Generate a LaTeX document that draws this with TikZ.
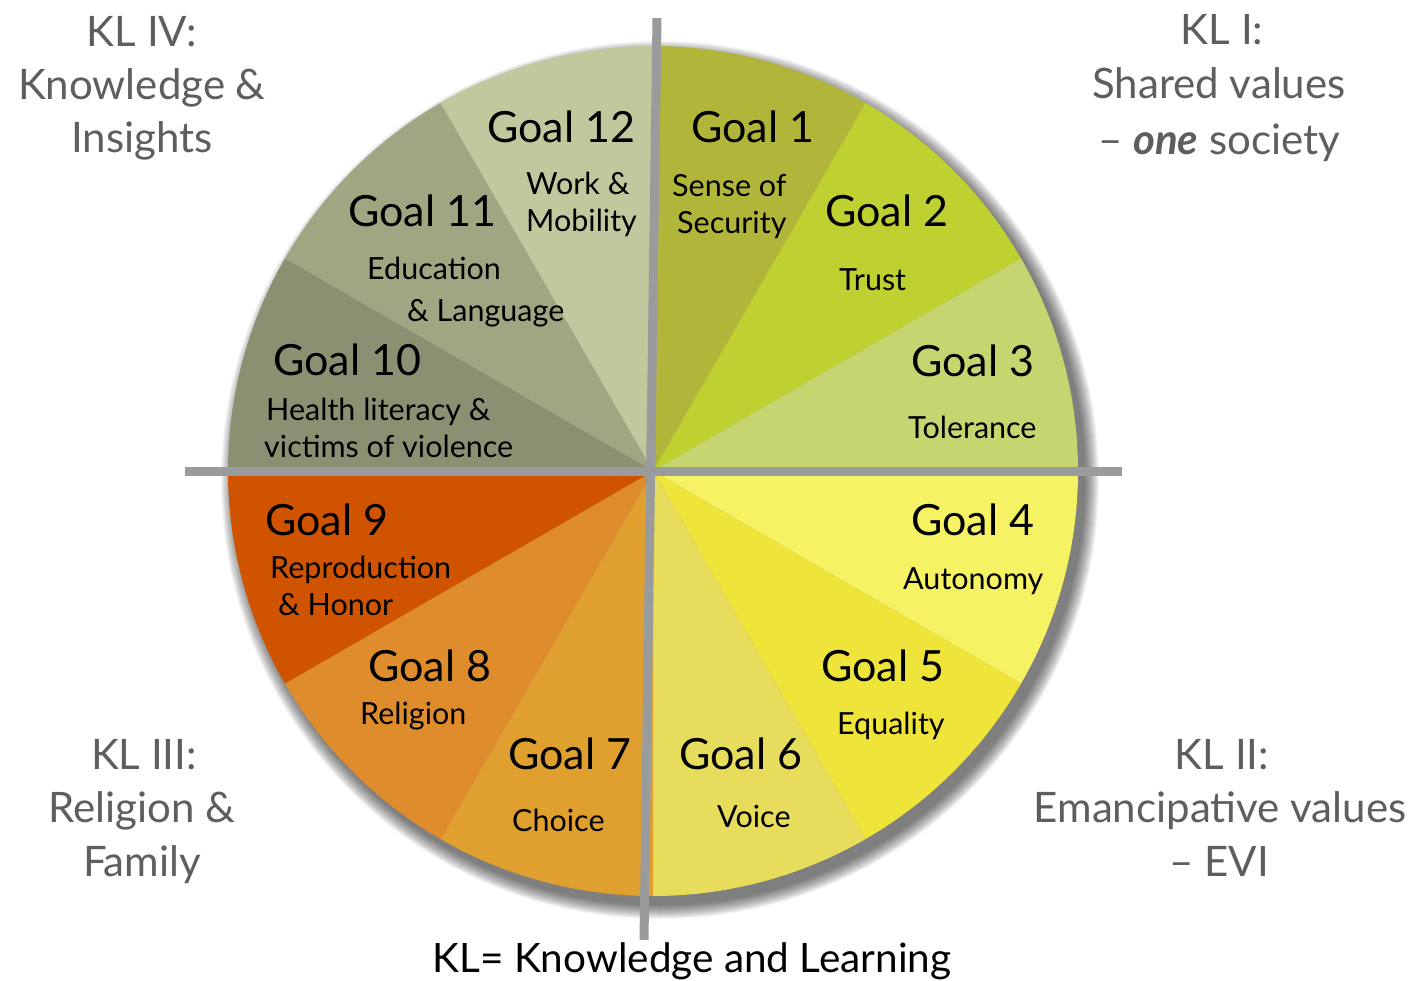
\documentclass[tikz,border=0pt]{standalone}
\usepackage{fontspec}
\setmainfont{Lato}
\definecolor{g1}{HTML}{B1B53A}
\definecolor{g2}{HTML}{BED131}
\definecolor{g3}{HTML}{C5D670}
\definecolor{g4}{HTML}{F5F263}
\definecolor{g5}{HTML}{EFE43A}
\definecolor{g6}{HTML}{E8DC5C}
\definecolor{g7}{HTML}{E0A030}
\definecolor{g8}{HTML}{DF8C2C}
\definecolor{g9}{HTML}{D05400}
\definecolor{g10}{HTML}{8C8F72}
\definecolor{g11}{HTML}{A1A582}
\definecolor{g12}{HTML}{C2C79D}
\definecolor{klgray}{HTML}{5E5E5E}
\definecolor{linegray}{HTML}{9A9B9D}
\begin{document}
\begin{tikzpicture}[x=1pt,y=-1pt,
  goal/.style={anchor=mid west, inner sep=0pt, font=\fontsize{43}{43}\selectfont, text=black},
  sub/.style={anchor=mid west, inner sep=0pt, font=\fontsize{30.5}{30.5}\selectfont, text=black},
  kl/.style={anchor=mid, inner sep=0pt, font=\fontsize{42}{42}\selectfont, text=klgray},
  crossline/.style={line width=9pt, draw=linegray}]
\useasboundingbox (0,0) rectangle (1410,980);
\fill[white] (0,0) rectangle (1410,980);
\coordinate (C) at (653,471);
% soft shadow
\foreach \k in {0,...,14}
  \fill[black, opacity=0.045] (660,480) circle[radius={439-\k}];
% slices
\foreach \c [count=\k] in {g1,g2,g3,g4,g5,g6,g7,g8,g9,g10,g11,g12}
  \fill[\c] (C) -- ++({30*\k-120}:425) arc[start angle={30*\k-120}, end angle={30*\k-90}, radius=425] -- cycle;
% cross lines
\coordinate (vt) at (657,18);
\coordinate (vb) at (644,940);
\coordinate (hl) at (185,471);
\coordinate (hr) at (1122,471);
\draw[crossline] (vt) -- (vb);
\draw[crossline] (hl) -- (hr);
% goal labels
\node[goal] (n12) at (487,140) {Goal 12};
\node[sub]  (s12a) at (526,192) {Work \&};
\node[sub]  (s12b) at (526,229) {Mobility};
\node[goal] (n1) at (691,140) {Goal 1};
\node[sub]  (s1a) at (672,194) {Sense of};
\node[sub]  (s1b) at (677,231) {Security};
\node[goal] (n2) at (825,224) {Goal 2};
\node[sub]  (s2) at (839,288) {Trust};
\node[goal] (n3) at (911,374) {Goal 3};
\node[sub]  (s3) at (908,436) {Tolerance};
\node[goal] (n4) at (911,533) {Goal 4};
\node[sub]  (s4) at (903,587) {Autonomy};
\node[goal] (n5) at (821,679) {Goal 5};
\node[sub]  (s5) at (837,732) {Equality};
\node[goal] (n6) at (679,767) {Goal 6};
\node[sub]  (s6) at (717,825) {Voice};
\node[goal] (n7) at (508,767) {Goal 7};
\node[sub]  (s7) at (512,829) {Choice};
\node[goal] (n8) at (368,679) {Goal 8};
\node[sub]  (s8) at (360,722) {Religion};
\node[goal] (n9) at (265,533) {Goal 9};
\node[sub]  (s9a) at (270,576) {Reproduction};
\node[sub]  (s9b) at (278,613) {\& Honor};
\node[goal] (n10) at (273,373) {Goal 10};
\node[sub]  (s10a) at (266,418) {Health literacy \&};
\node[sub]  (s10b) at (264,455) {victims of violence};
\node[goal] (n11) at (348,224) {Goal 11};
\node[sub]  (s11a) at (367,277) {Education};
\node[sub]  (s11b) at (407,319) {\& Language};
% KL labels
\node[kl] (k4a) at (142,44) {KL IV:};
\node[kl] (k4b) at (142,97) {Knowledge \&};
\node[kl] (k4c) at (142,150) {Insights};
\node[kl] (k1a) at (1222,42) {KL I:};
\node[kl] (k1b) at (1219,96) {Shared values};
\node[kl] (k1c) at (1219,152) {– {\bfseries\itshape one} society};
\node[kl] (k3a) at (144,767) {KL III:};
\node[kl] (k3b) at (142,820) {Religion \&};
\node[kl] (k3c) at (142,874) {Family};
\node[kl] (k2a) at (1222,767) {KL II:};
\node[kl] (k2b) at (1220,820) {Emancipative values};
\node[kl] (k2c) at (1219,874) {– EVI};
\node[anchor=mid, inner sep=0pt, font=\fontsize{40.5}{40.5}\selectfont, text=black] (foot) at (692,970) {KL= Knowledge and Learning};
\end{tikzpicture}
\end{document}
